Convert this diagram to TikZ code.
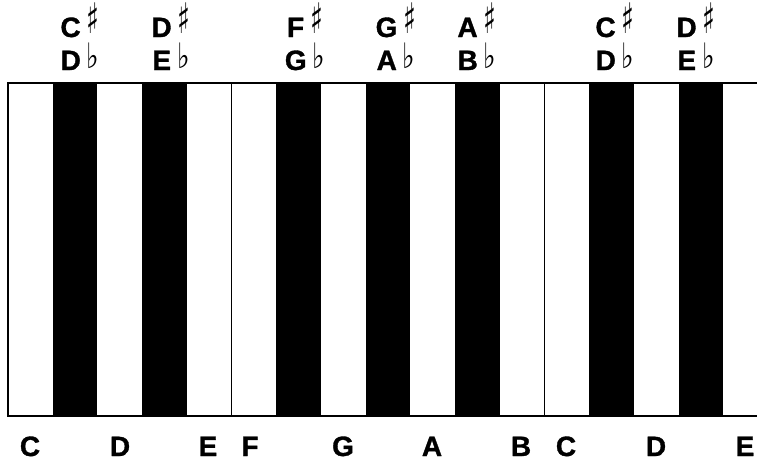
\documentclass[tikz,border=0pt]{standalone}
\usepackage{fontspec}
\setmainfont{Liberation Sans}[BoldFeatures={FakeBold=1.2}]
\newfontfamily\symfont{DejaVu Sans}
\usepackage{graphicx}
\newcommand{\shp}{\hspace{6pt}\raisebox{3.5pt}{\scalebox{0.95}[1.5]{\symfont\bfseries ♯}}}
\newcommand{\flt}{\hspace{6pt}\raisebox{1.5pt}{\scalebox{0.95}[1.25]{\symfont\bfseries ♭}}}
\begin{document}
\begin{tikzpicture}[x=1pt,y=-1pt,
  lbl/.style={font=\fontsize{28}{28}\selectfont\bfseries, anchor=base, inner sep=0pt, text depth=0pt},
  frame/.style={line width=1.4pt, line cap=rect},
  divider/.style={line width=1pt}]
\useasboundingbox (0,0) rectangle (757,461);
\fill[white] (0,0) rectangle (757,461);
% black keys
\foreach \k in {1,3,6,8,10,13,15}
  \fill[black] ({8+\k*44.7},83) rectangle ({8+(\k+1)*44.7},416);
% frame (open at right)
\draw[frame] (757,83) -- (8,83) -- (8,416) -- (757,416);
% white-key dividers
\draw[divider] ({8+5*44.7},83) -- ({8+5*44.7},416);
\draw[divider] ({8+12*44.7},83) -- ({8+12*44.7},416);
% top labels
\node[lbl] (cs1) at (80,37) {C\shp};
\node[lbl] (db1) at (80,70) {D\flt};
\node[lbl] (ds1) at (171,37) {D\shp};
\node[lbl] (eb1) at (171,70) {E\flt};
\node[lbl] (fs) at (305,37) {F\shp};
\node[lbl] (gb) at (305,70) {G\flt};
\node[lbl] (gs) at (396,37) {G\shp};
\node[lbl] (ab) at (396,70) {A\flt};
\node[lbl] (as) at (477,37) {A\shp};
\node[lbl] (bb) at (477,70) {B\flt};
\node[lbl] (cs2) at (615,37) {C\shp};
\node[lbl] (db2) at (615,70) {D\flt};
\node[lbl] (ds2) at (696,37) {D\shp};
\node[lbl] (eb2) at (696,70) {E\flt};
% bottom labels
\node[lbl] (c1) at (30,456) {C};
\node[lbl] (d1) at (120,456) {D};
\node[lbl] (e1) at (208,456) {E};
\node[lbl] (f1) at (250,456) {F};
\node[lbl] (g1) at (343,456) {G};
\node[lbl] (a1) at (432,456) {A};
\node[lbl] (b1) at (521,456) {B};
\node[lbl] (c2) at (566,456) {C};
\node[lbl] (d2) at (656,456) {D};
\node[lbl] (e2) at (745,456) {E};
\end{tikzpicture}
\end{document}
